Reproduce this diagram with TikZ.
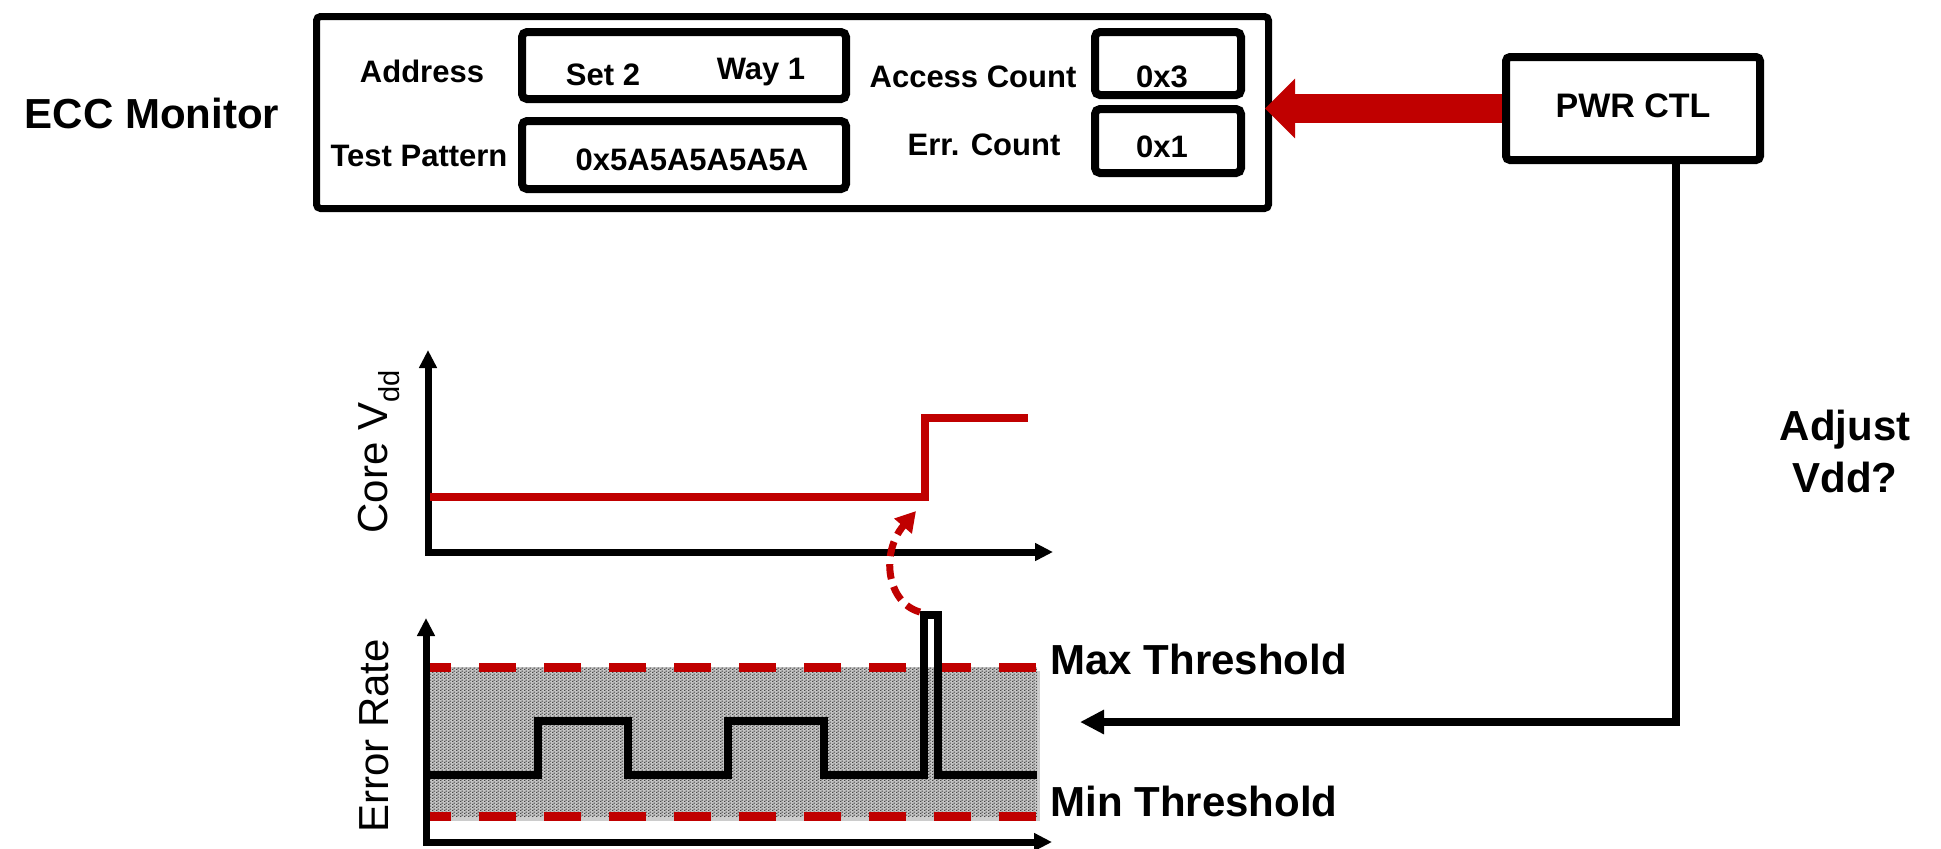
\documentclass[tikz,border=0pt]{standalone}
\usepackage{fontspec}
\setmainfont{Liberation Sans}
\usetikzlibrary{arrows.meta,patterns}
\definecolor{dred}{RGB}{192,0,0}

% fine stipple used for the allowed error band
\pgfdeclarepatternformonly{stipple}{\pgfqpoint{0pt}{0pt}}{\pgfqpoint{2pt}{1.6pt}}{\pgfqpoint{2pt}{1.6pt}}{%
  \pgfpathrectangle{\pgfqpoint{0pt}{0pt}}{\pgfqpoint{0.9pt}{0.65pt}}%
  \pgfpathrectangle{\pgfqpoint{1pt}{0.8pt}}{\pgfqpoint{0.9pt}{0.65pt}}%
  \pgfusepath{fill}}

\begin{document}
\begin{tikzpicture}[x=0.5pt,y=-0.5pt,
  frame/.style={draw, line width=3.5pt, rounded corners=2pt, inner sep=0pt},
  fieldbox/.style={draw, line width=4pt, rounded corners=2.5pt, inner sep=0pt},
  small/.style={font=\bfseries\fontsize{15.5}{18}\selectfont, inner sep=0pt, anchor=base},
  big/.style={font=\bfseries\fontsize{21}{26}\selectfont, inner sep=0pt},
  axislabel/.style={font=\fontsize{21}{25}\selectfont, inner sep=0pt, rotate=90, anchor=base},
  axis/.style={line width=3.5pt,
    {Triangle[length=9pt,width=8.5pt]}-{Triangle[length=9pt,width=8.5pt]}},
  conn/.style={line width=4pt, -{Triangle[length=12pt,width=11.5pt]}},
  thresh/.style={dred, line width=4.5pt, dash pattern=on 18.5pt off 14pt, dash phase=7pt},
  signal/.style={line width=4pt},
]
\useasboundingbox (0,0) rectangle (1941,848);

% ---------- ECC monitor block ----------
\node[big, anchor=base] (title) at (152,128) {ECC Monitor};
\node[frame, minimum width=476pt, minimum height=96pt] (ecc) at (792.5,112.5) {};

\node[fieldbox, minimum width=162pt, minimum height=33.5pt] (addr) at (684,65.5) {};
\node[fieldbox, minimum width=162pt, minimum height=34pt] (pat) at (684,155) {};
\node[fieldbox, minimum width=73pt, minimum height=31.5pt] (acc) at (1168,63.5) {};
\node[fieldbox, minimum width=73pt, minimum height=32pt] (err) at (1168,141) {};

\node[small] (addrlbl) at (422,82) {Address};
\node[small] (setlbl) at (603,85) {Set 2};
\node[small] (waylbl) at (761,79) {Way 1};
\node[small] (acclbl) at (973,87) {Access Count};
\node[small] (accval) at (1162,87) {0x3};
\node[small] (patlbl) at (419,166) {Test Pattern};
\node[small] (patval) at (692,170) {0x5A5A5A5A5A};
\node[small] (errlbl) at (984,155) {Err. Count};
\node[small] (errval) at (1162,157) {0x1};

% ---------- power controller ----------
\node[frame, line width=4pt, minimum width=127pt, minimum height=51.5pt] (ctl) at (1633,108.5) {};
\node[font=\bfseries\fontsize{17}{20}\selectfont, inner sep=0pt, anchor=base] (ctllbl) at (1633,117) {PWR CTL};

\draw[dred, line width=14.5pt, -{Triangle[length=15pt,width=29pt]}, shorten >=-3.5pt]
  (ctl.west) -- (ctl.west -| ecc.east);

% feedback path to the error-rate plot
\coordinate (bend) at (1676,722);
\coordinate (fb) at (1080,722);
\draw[conn] (ctl.south -| bend) -- (bend) -- (fb);
\node[big, align=center] (adj) at (1845,451) {Adjust\\Vdd?};

% ---------- core Vdd plot ----------
\coordinate (vtop) at (428,350);
\coordinate (vend) at (1053,552);
\draw[axis] (vtop) |- (vend);
\draw[dred, line width=4pt] (430,497) -- (924.5,497) -- (924.5,418) -- (1028,418);
\node[axislabel] (vddlbl) at (387,452) {Core V\raisebox{-0.3em}{\fontsize{14.5}{15}\selectfont dd}};

% ---------- error rate plot ----------
\fill[black!20] (431,671) rectangle (1040,821);
\fill[black!22] (428,667) rectangle (1037,816);
\fill[pattern=stipple, pattern color=black!72] (428,667) rectangle (1037,816);
\coordinate (maxl) at (428,667);
\coordinate (maxr) at (1037,667);
\coordinate (minl) at (428,816);
\coordinate (minr) at (1037,816);
\draw[thresh] (maxl) -- (maxr);
\draw[thresh] (minl) -- (minr);

\draw[signal] (428,775) -- (538,775) -- (538,721) -- (628,721) -- (628,775)
  -- (728,775) -- (728,721) -- (824,721) -- (824,775) -- (924,775)
  -- (924,615) -- (938,615) -- (938,775) -- (1037,775);

\coordinate (etop) at (426,618);
\coordinate (eend) at (1052,842);
\draw[axis] (etop) |- (eend);
\node[axislabel] (errratelbl) at (388,736) {Error Rate};

\node[big, anchor=base west] (maxlbl) at (1050,674) {Max Threshold};
\node[big, anchor=base west] (minlbl) at (1050,816) {Min Threshold};

% error spike triggers the supply step
\draw[dred, line width=3.5pt, dash pattern=on 7.5pt off 4pt,
  -{Triangle[length=10pt,width=11pt]}]
  (920,612) .. controls (887,603) and (880,553) .. (916,511);
\end{tikzpicture}
\end{document}
